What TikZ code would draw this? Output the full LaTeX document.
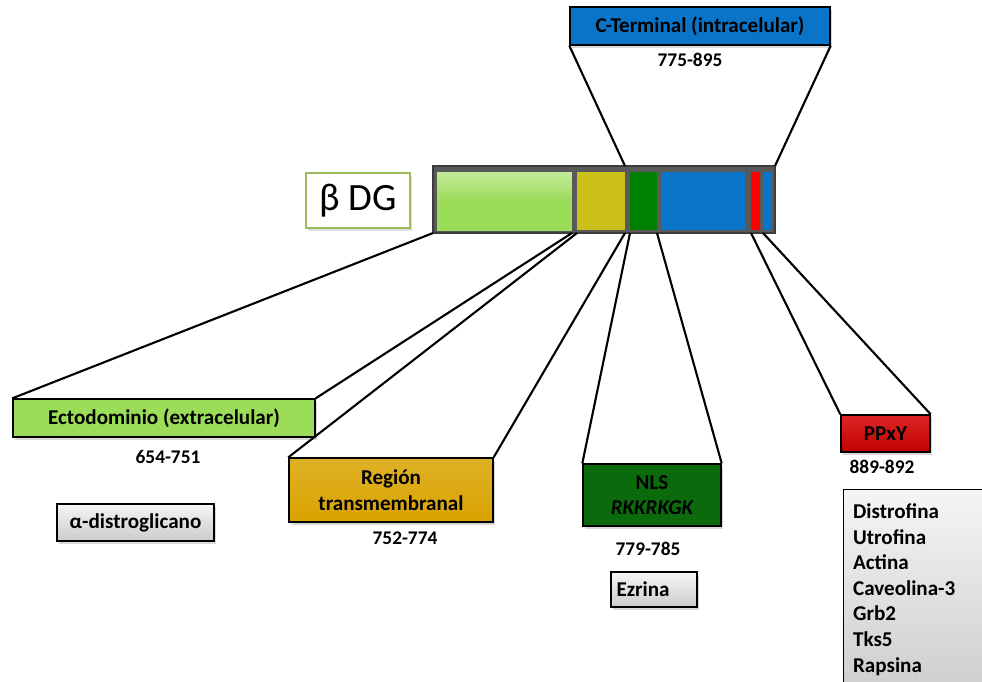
\documentclass[tikz,border=0pt]{standalone}
\usepackage{fontspec}
\setmainfont{Carlito}
\usetikzlibrary{shadows}

\definecolor{ectogreen}{HTML}{9BDC58}
\definecolor{tmyellow}{HTML}{CBBF1A}
\definecolor{tmgold}{HTML}{D9A300}
\definecolor{nlsgreen}{HTML}{008000}
\definecolor{nlsdark}{HTML}{0B6A0B}
\definecolor{ctblue}{HTML}{0A74C8}
\definecolor{ppred}{HTML}{D80000}
\definecolor{bdgframe}{HTML}{9BBB59}
\definecolor{barframe}{HTML}{3C3C3C}

\begin{document}
\begin{tikzpicture}[x=0.02cm,y=-0.02cm,
    domainbox/.style={draw=black,line width=0.8pt,inner sep=0pt,
      font=\fontsize{12}{14.5}\selectfont\bfseries,align=center,
      drop shadow={opacity=0.3,shadow xshift=1pt,shadow yshift=-1.5pt}},
    graybox/.style={domainbox,top color=gray!8,bottom color=gray!40},
    segment/.style={minimum height=1.16cm,inner sep=0pt,outer sep=0pt},
    numrange/.style={font=\fontsize{11}{13}\selectfont\bfseries},
    link/.style={line width=1.2pt}]
  \useasboundingbox (0,0) rectangle (982,681);

  % the protein bar
  \node (bar) [fill=barframe!85,draw=barframe,line width=1.5pt,minimum width=6.84cm,
    minimum height=1.34cm,inner sep=0pt,outer sep=0pt] at (604,199.5) {};
  \node (ectoseg) [segment,top color=ectogreen!60!white,bottom color=ectogreen,
    middle color=ectogreen,minimum width=2.70cm] at (504.5,201) {};
  \node (tmseg) [segment,fill=tmyellow,minimum width=0.96cm] at (601,201) {};
  \node (nlsseg) [segment,fill=nlsgreen,minimum width=0.54cm] at (643.5,201) {};
  \node (ctseg) [segment,fill=ctblue,minimum width=1.70cm] at (703.5,201) {};
  \node (ppseg) [segment,fill=red,minimum width=0.18cm] at (755.5,201) {};
  \node (endseg) [segment,fill=ctblue,minimum width=0.18cm] at (767.5,201) {};

  \node (bdg) [draw=bdgframe,line width=0.8pt,fill=white,minimum width=2.08cm,
    minimum height=1.10cm,font=\fontsize{22}{26}\selectfont,
    drop shadow={opacity=0.25,shadow xshift=1pt,shadow yshift=-1.5pt}] at (358,200.5) {β DG};

  % domains
  \node (cterm) [domainbox,fill=ctblue,minimum width=5.2cm,minimum height=0.76cm] at (700,26) {C-Terminal (intracelular)};
  \node (ctrange) [numrange] at (690,60) {775-895};

  \node (ecto) [domainbox,fill=ectogreen,minimum width=6.04cm,minimum height=0.76cm] at (164,418) {Ectodominio (extracelular)};
  \node (ectorange) [numrange] at (168,457) {654-751};

  \node (region) [domainbox,top color=tmgold!85!white,bottom color=tmgold,minimum width=4.08cm,minimum height=1.28cm] at (391,490) {Región\\transmembranal};
  \node (regionrange) [numrange] at (405,538) {752-774};

  \node (nls) [domainbox,fill=nlsdark,minimum width=2.76cm,minimum height=1.24cm] at (652,495) {NLS\\\itshape RKKRKGK};
  \node (nlsrange) [numrange] at (648,549) {779-785};

  \node (ppxy) [domainbox,top color=ppred!85!white,bottom color=ppred!90!black,minimum width=1.78cm,minimum height=0.74cm] at (885.5,433.5) {PPxY};
  \node (pprange) [numrange] at (882,467) {889-892};

  % partners
  \node (alpha) [graybox,minimum width=3.14cm,minimum height=0.74cm] at (135.5,522.5) {α-distroglicano};
  \node (ezrina) [graybox,minimum width=1.72cm,minimum height=0.70cm,text width=1.5cm,align=left] at (654,589.5) {Ezrina};
  \node (partners) [graybox,anchor=north west,minimum width=3cm,minimum height=4.2cm,
    text width=2.8cm,align=left,inner sep=0pt,
    font=\fontsize{12}{14.6}\selectfont\bfseries] at (843,489)
    {\\[-12pt]\hspace*{2.5pt}Distrofina\\\hspace*{2.5pt}Utrofina\\\hspace*{2.5pt}Actina\\\hspace*{2.5pt}Caveolina-3\\\hspace*{2.5pt}Grb2\\\hspace*{2.5pt}Tks5\\\hspace*{2.5pt}Rapsina\\[14pt]};

  % connectors
  \draw [link] (cterm.south west) -- (tmseg.north east |- bar.north);
  \draw [link] (cterm.south east) -- (bar.north east);
  \draw [link] (ecto.north west) -- (bar.south west);
  \draw [link] (ecto.north east) -- (ectoseg.south east |- bar.south);
  \draw [link] (region.north west) -- (tmseg.south west |- bar.south);
  \draw [link] (region.north east) -- (tmseg.south east |- bar.south);
  \draw [link] (nls.north west) -- (nlsseg.south west |- bar.south);
  \draw [link] (nls.north east) -- (nlsseg.south east |- bar.south);
  \draw [link] (ppxy.north west) -- (ppseg.south west |- bar.south);
  \draw [link] (ppxy.north east) -- (endseg.south west |- bar.south);
\end{tikzpicture}
\end{document}
